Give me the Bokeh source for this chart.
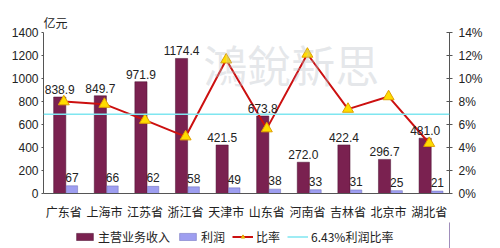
from bokeh.plotting import figure
from bokeh.layouts import column
from bokeh.models import (ColumnDataSource, FactorRange, Range1d, LinearAxis, Span,
                          Legend, LegendItem, FixedTicker, PrintfTickFormatter, Label)
from bokeh.transform import dodge
from bokeh.core.properties import value
from bokeh.embed import file_html
from bokeh.resources import INLINE

regions = ["广东省", "上海市", "江苏省", "浙江省", "天津市", "山东省", "河南省", "吉林省", "北京市", "湖北省"]
revenue = [838.9, 849.7, 971.9, 1174.4, 421.5, 673.8, 272.0, 422.4, 296.7, 481.0]
profit = [67, 66, 62, 58, 49, 38, 33, 31, 25, 21]
ratio = [7.99, 7.77, 6.38, 4.94, 11.63, 5.64, 12.13, 7.34, 8.43, 4.37]
avg_line = 6.9
rev_labels = ["838.9", "849.7", "971.9", "1174.4", "421.5", "673.8", "272.0", "422.4", "296.7", "481.0"]
prof_labels = [str(v) for v in profit]
left_ticks = [0, 200, 400, 600, 800, 1000, 1200, 1400]
right_ticks = [0, 2, 4, 6, 8, 10, 12, 14]
legend_labels = ["主营业务收入", "利润", "比率", "6.43%利润比率"]

CJK = "Noto Sans CJK SC"
NUM = "Liberation Sans"
C_REV, C_REV_L = "#7a2150", "#4a1030"
C_PRO, C_PRO_L = "#9e9ef0", "#6a6ab8"
C_LINE = "#cc1010"
C_AVG = "#7fe6f0"

src = ColumnDataSource(dict(region=regions, revenue=revenue, profit=profit, ratio=ratio,
                            rl=rev_labels, pl=prof_labels))

fig = figure(width=500, height=222, x_range=FactorRange(*regions), y_range=Range1d(0, 1400),
             output_backend="svg", toolbar_location=None, title="亿元",
             min_border_left=43, min_border_right=51, min_border_top=32, min_border_bottom=26)
fig.extra_y_ranges = {"pct": Range1d(0, 14)}
fig.outline_line_color = None
fig.grid.grid_line_color = None
fig.title.text_font = CJK
fig.title.text_font_size = "12px"
fig.title.text_font_style = "normal"
fig.title.text_color = "#222222"
fig.title.align = "left"
fig.title.standoff = 4

# watermark
fig.add_layout(Label(x=6.1, y=1130, text="鴻銳新思", text_font=CJK, text_font_size="44px",
                     text_color="#b4bcc4", text_alpha=0.35, text_align="center", text_baseline="middle"))

fig.vbar(x=dodge("region", -0.1, range=fig.x_range), top="revenue", width=0.3, source=src,
         fill_color=C_REV, line_color=C_REV_L, line_width=0.5)
fig.vbar(x=dodge("region", 0.2, range=fig.x_range), top="profit", width=0.28, source=src,
         fill_color=C_PRO, line_color=C_PRO_L, line_width=0.5)

fig.add_layout(Span(location=avg_line, dimension="width", y_range_name="pct",
                    line_color=C_AVG, line_width=1.5))

fig.line(x="region", y="ratio", source=src, y_range_name="pct", line_color=C_LINE, line_width=2)
fig.scatter(x="region", y="ratio", source=src, y_range_name="pct", marker="triangle", size=11,
            fill_color="#ffdd00", line_color="#e0a000", line_width=1)

fig.text(x=dodge("region", -0.1, range=fig.x_range), y="revenue", text="rl", source=src,
         text_font=value(NUM), text_font_size="12px", text_color="#222222",
         text_align="center", text_baseline="bottom", y_offset=-3)
fig.text(x=dodge("region", 0.2, range=fig.x_range), y="profit", text="pl", source=src,
         text_font=value(NUM), text_font_size="12px", text_color="#222222",
         text_align="center", text_baseline="bottom", y_offset=-4)

ax = fig.yaxis[0]
ax.ticker = FixedTicker(ticks=left_ticks)
ax.major_label_text_font = NUM
ax.major_label_text_font_size = "12px"
ax.major_label_text_color = "#222222"
ax.axis_line_color = "#555555"
ax.major_tick_line_color = "#555555"
ax.major_tick_in = 0
ax.major_tick_out = 2
ax.minor_tick_line_color = None
ax.major_label_standoff = 3

ra = LinearAxis(y_range_name="pct", ticker=FixedTicker(ticks=right_ticks),
                formatter=PrintfTickFormatter(format="%d%%"))
ra.major_label_text_font = NUM
ra.major_label_text_font_size = "12px"
ra.major_label_text_color = "#222222"
ra.axis_line_color = "#555555"
ra.major_tick_line_color = "#555555"
ra.major_tick_in = 3
ra.major_tick_out = 3
ra.minor_tick_line_color = None
ra.major_label_standoff = 6
fig.add_layout(ra, "right")

xa = fig.xaxis[0]
xa.major_label_text_font = CJK
xa.major_label_text_font_size = "12px"
xa.major_label_text_color = "#222222"
xa.axis_line_color = "#555555"
xa.major_tick_line_color = None
xa.major_label_standoff = 3

# legend strip (its sample glyphs lie outside the visible range)
leg = figure(width=500, height=26, x_range=Range1d(0, 1), y_range=Range1d(0, 1),
             output_backend="svg", toolbar_location=None,
             x_axis_location=None, y_axis_location=None,
             min_border_left=0, min_border_right=0, min_border_top=0, min_border_bottom=0)
leg.grid.grid_line_color = None
leg.outline_line_color = None
g1 = leg.vbar(x=[5], top=[1], width=0.1, fill_color=C_REV, line_color=C_REV_L, line_width=0.5)
g2 = leg.vbar(x=[5], top=[1], width=0.1, fill_color=C_PRO, line_color=C_PRO_L, line_width=0.5)
g3a = leg.line(x=[5, 6], y=[5, 5], line_color=C_LINE, line_width=2)
g3b = leg.scatter(x=[5], y=[5], marker="triangle", size=11, fill_color="#ffdd00", line_color="#e0a000")
g4 = leg.line(x=[5, 6], y=[5, 5], line_color=C_AVG, line_width=1.5)
legend = Legend(items=[LegendItem(label=legend_labels[0], renderers=[g1]),
                       LegendItem(label=legend_labels[1], renderers=[g2]),
                       LegendItem(label=legend_labels[2], renderers=[g3a, g3b]),
                       LegendItem(label=legend_labels[3], renderers=[g4])],
                orientation="horizontal", location=(31, 3),
                label_text_font=CJK, label_text_font_size="12px", label_text_color="#222222",
                glyph_width=21, glyph_height=9, label_height=14, label_standoff=3, spacing=7,
                padding=2, margin=0, border_line_color=None, background_fill_alpha=0)
leg.add_layout(legend)

p = column(fig, leg, spacing=0)
open("out.html", "w").write(file_html(p, INLINE))
